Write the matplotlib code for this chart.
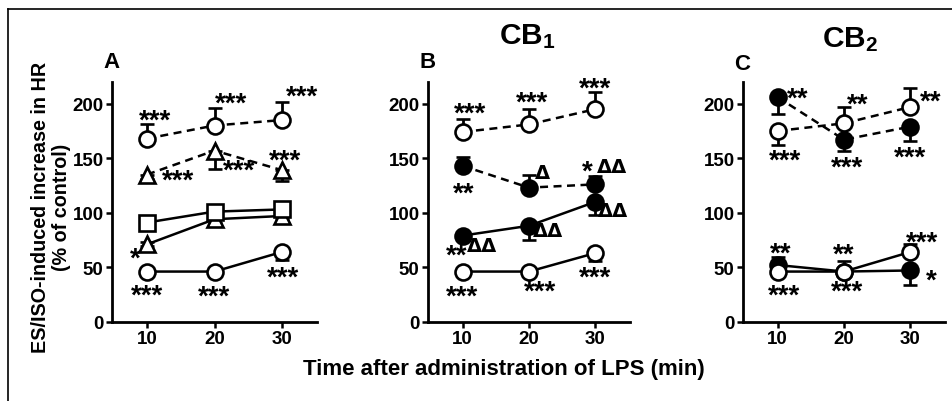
import matplotlib
matplotlib.use("Agg")
import matplotlib.pyplot as plt
from matplotlib.lines import Line2D

plt.rcParams['font.family'] = ['Liberation Sans', 'DejaVu Sans']
plt.rcParams['font.weight'] = 'bold'
plt.rcParams['mathtext.fontset'] = 'custom'
plt.rcParams['mathtext.rm'] = 'Liberation Sans:bold'
plt.rcParams['mathtext.bf'] = 'Liberation Sans:bold'

times = [10, 20, 30]

# panel A
a_circ_dash = [168, 180, 185]
a_circ_dash_up = [13, 16, 17]
a_tri_dash = [135, 157, 139]
a_tri_dash_dn = [4, 17, 10]
a_sq = [91, 101, 103]
a_sq_err = [3, 3, 4]
a_tri = [71, 94, 97]
a_tri_err = [2, 3, 3]
a_circ = [46, 46, 64]
a_circ_dn = [1, 1, 7]

# panel B (CB1)
b_open_dash = [174, 181, 195]
b_open_dash_up = [12, 14, 16]
b_fill_dash = [143, 123, 126]
b_fill_dash_up = [8, 12, 8]
b_fill = [79, 88, 110]
b_fill_dn = [2, 13, 12]
b_open = [46, 46, 63]
b_open_dn = [1, 1, 7]

# panel C (CB2)
c_open_dash = [175, 182, 197]
c_open_dash_dn = [13, 0, 0]
c_open_dash_up = [0, 15, 17]
c_fill_dash = [206, 167, 179]
c_fill_dash_dn = [15, 10, 13]
c_fill = [52, 46, 47]
c_fill_dn = [0, 0, 13]
c_fill_up = [7, 0, 0]
c_open = [46, 46, 64]
c_open_up = [0, 10, 7]

# significance marks (x, y, text)
a_marks = [(11.2, 189, '***'), (22.5, 204, '***'), (33.0, 211, '***'),
           (14.6, 134, '***'), (23.6, 143, '***'), (30.4, 152, '***'),
           (8.2, 62, '*'), (10.0, 28, '***'), (20.0, 27, '***'), (30.1, 45, '***')]
b_marks = [(11.1, 195, '***'), (20.4, 205, '***'), (30.0, 218, '***'),
           (10.2, 122, '**'), (28.7, 142, '*'),
           (9.1, 65, '**'), (9.85, 27, '***'), (21.7, 31.5, '***'), (30.0, 45, '***')]
b_deltas = [(22.1, 137, 'Δ'), (32.5, 142, 'ΔΔ'), (32.7, 102, 'ΔΔ'),
            (22.9, 84, 'ΔΔ'), (13.0, 70, 'ΔΔ')]
c_marks = [(13.1, 209, '**'), (11.2, 152, '***'), (22.1, 203, '**'),
           (20.4, 146, '***'), (33.1, 206, '**'), (30.0, 155, '***'),
           (10.4, 67, '**'), (10.9, 28, '***'), (19.9, 66, '**'),
           (20.4, 32, '***'), (31.8, 77, '***'), (33.1, 42, '*')]

W, H = 952, 402
fig = plt.figure(figsize=(W / 100, H / 100), dpi=100)


def px_axes(left, right):
    bottom = 322.7
    top = bottom - 220 * 1.09
    return fig.add_axes([left / W, 1 - bottom / H, (right - left) / W, (bottom - top) / H])


def series(ax, y, err, marker, fill, ls):
    ms = 11.5 if marker == 'o' else (11 if marker == 's' else 12)
    ax.errorbar(times, y, yerr=err, fmt=marker, ls=ls, color='black', lw=1.8,
                ms=ms, mfc=fill, mec='black', mew=1.9, capsize=5, capthick=2,
                elinewidth=2, dashes=(3.2, 2.2) if ls == '--' else (None, None))


def style(ax):
    ax.set_xlim(4.8, 35.2)
    ax.set_ylim(0, 220)
    ax.set_xticks(times)
    ax.set_yticks([0, 50, 100, 150, 200])
    for s in ['top', 'right']:
        ax.spines[s].set_visible(False)
    for s in ['left', 'bottom']:
        ax.spines[s].set_linewidth(2)
    ax.tick_params(width=1.8, length=4, labelsize=13.5, pad=2)
    for lab in ax.get_xticklabels() + ax.get_yticklabels():
        lab.set_fontweight('bold')


def marks(ax, items, fs=20):
    for x, y, s in items:
        ax.annotate(s, (x, y), xytext=(0, -0.42 * fs), textcoords='offset points',
                    ha='center', va='baseline', fontsize=fs, fontweight='bold')


def deltas(ax, items, fs=14):
    for x, y, s in items:
        ax.text(x, y, s, ha='center', va='center', fontsize=fs,
                family='DejaVu Sans', fontweight='bold')


axA = px_axes(112, 317)
series(axA, a_circ_dash, [[0, 0, 0], a_circ_dash_up], 'o', 'white', '--')
series(axA, a_tri_dash, [a_tri_dash_dn, [0, 0, 0]], '^', 'white', '--')
series(axA, a_tri, a_tri_err, '^', 'white', '-')
series(axA, a_sq, a_sq_err, 's', 'white', '-')
series(axA, a_circ, [a_circ_dn, [0, 0, 0]], 'o', 'white', '-')
style(axA)
marks(axA, a_marks)

axB = px_axes(428, 630)
series(axB, b_open_dash, [[0, 0, 0], b_open_dash_up], 'o', 'white', '--')
series(axB, b_fill_dash, [[0, 0, 0], b_fill_dash_up], 'o', 'black', '--')
series(axB, b_fill, [b_fill_dn, [0, 0, 0]], 'o', 'black', '-')
series(axB, b_open, [b_open_dn, [0, 0, 0]], 'o', 'white', '-')
style(axB)
marks(axB, b_marks)
deltas(axB, b_deltas)

axC = px_axes(743, 945)
series(axC, c_fill_dash, [c_fill_dash_dn, [0, 0, 0]], 'o', 'black', '--')
series(axC, c_open_dash, [c_open_dash_dn, c_open_dash_up], 'o', 'white', '--')
series(axC, c_fill, [c_fill_dn, c_fill_up], 'o', 'black', '-')
series(axC, c_open, [[0, 0, 0], c_open_up], 'o', 'white', '-')
style(axC)
marks(axC, c_marks)

# panel letters and titles
fig.text(112 / W, 1 - 63 / H, 'A', ha='center', va='center', fontsize=16, fontweight='bold')
fig.text(428 / W, 1 - 63 / H, 'B', ha='center', va='center', fontsize=16, fontweight='bold')
fig.text(742 / W, 1 - 65 / H, 'C', ha='center', va='center', fontsize=16, fontweight='bold')
fig.text(527 / W, 1 - 37 / H, r'$\mathbf{CB_1}$', ha='center', va='center', fontsize=21.5)
fig.text(850 / W, 1 - 40 / H, r'$\mathbf{CB_2}$', ha='center', va='center', fontsize=21.5)

fig.text(51 / W, 1 - 207 / H, 'ES/ISO-induced increase in HR\n(% of control)',
         rotation=90, ha='center', va='center', fontsize=14.2, fontweight='bold',
         linespacing=1.15)
fig.text(504 / W, 1 - 370 / H, 'Time after administration of LPS (min)',
         ha='center', va='center', fontsize=16, fontweight='bold')

# frame
fig.add_artist(Line2D([8 / W, 8 / W], [0, 1 - 10 / H], color='black', lw=1.2))
fig.add_artist(Line2D([8 / W, 1], [1 - 10 / H, 1 - 10 / H], color='black', lw=1.2))

fig.savefig('out.png', dpi=100)
